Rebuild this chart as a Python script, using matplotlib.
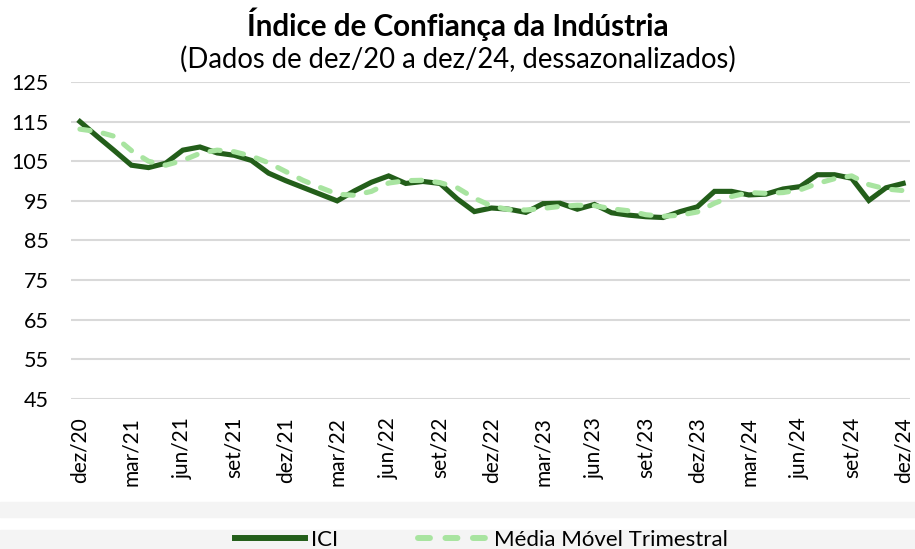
import numpy as np
import matplotlib
matplotlib.use('Agg')
import matplotlib.pyplot as plt
from matplotlib.patches import Rectangle

plt.rcParams['font.family'] = ['Lato', 'DejaVu Sans']

# Dados (dez/20 a dez/24)
meses = ['dez/20', 'jan/21', 'fev/21', 'mar/21', 'abr/21', 'mai/21', 'jun/21', 'jul/21', 'ago/21',
         'set/21', 'out/21', 'nov/21', 'dez/21', 'jan/22', 'fev/22', 'mar/22', 'abr/22', 'mai/22',
         'jun/22', 'jul/22', 'ago/22', 'set/22', 'out/22', 'nov/22', 'dez/22', 'jan/23', 'fev/23',
         'mar/23', 'abr/23', 'mai/23', 'jun/23', 'jul/23', 'ago/23', 'set/23', 'out/23', 'nov/23',
         'dez/23', 'jan/24', 'fev/24', 'mar/24', 'abr/24', 'mai/24', 'jun/24', 'jul/24', 'ago/24',
         'set/24', 'out/24', 'nov/24', 'dez/24']

ici = [115.0, 111.3, 107.7, 104.0, 103.4, 104.5, 107.8, 108.6, 107.1,
       106.5, 105.2, 102.0, 100.1, 98.4, 96.7, 95.0, 97.5, 99.7,
       101.3, 99.4, 99.9, 99.4, 95.5, 92.3, 93.2, 92.9, 92.1,
       94.3, 94.4, 92.9, 94.1, 92.0, 91.4, 91.0, 90.8, 92.3,
       93.5, 97.4, 97.4, 96.5, 96.7, 98.0, 98.6, 101.6, 101.6,
       100.7, 95.1, 98.3, 99.4]

media_movel = [113.1, 112.5, 111.3, 107.7, 105.0, 104.0, 105.2, 107.0, 107.8,
               107.4, 106.3, 104.6, 102.4, 100.2, 98.4, 96.7, 96.4, 97.4,
               99.5, 100.1, 100.2, 99.6, 98.3, 95.7, 93.7, 92.8, 92.7,
               93.1, 93.6, 93.9, 93.8, 93.0, 92.5, 91.5, 91.1, 91.4,
               92.2, 94.4, 96.1, 97.1, 96.9, 97.1, 97.8, 99.4, 100.6,
               101.3, 99.1, 98.0, 97.6]

y_ticks = [45, 55, 65, 75, 85, 95, 105, 115, 125]

W, H = 915, 549
fig = plt.figure(figsize=(W / 100, H / 100), dpi=100)
ax = fig.add_axes([71 / W, 1 - 399 / H, (910 - 71) / W, (399 - 82) / H])

x = np.arange(len(meses))
ax.plot(x, ici, color='#235e1a', lw=3.7, solid_joinstyle='miter', label='ICI', zorder=3)
ax.plot(x, media_movel, color='#a8e4a0', lw=3.7, dashes=(2.0, 2.6), dash_capstyle='round',
        label='Média Móvel Trimestral', zorder=4)

ax.set_xlim(-0.52, 48.4)
ax.set_ylim(45, 125)
ax.set_yticks(y_ticks)
ax.set_xticks(x[::3])
ax.set_xticklabels(meses[::3], rotation=90, fontsize=15)
ax.tick_params(axis='y', labelsize=15.5, length=0, pad=16)
ax.tick_params(axis='x', length=0, pad=13)
ax.grid(axis='y', color='#d9d9d9', lw=1.5)
ax.set_axisbelow(True)
for s in ax.spines.values():
    s.set_visible(False)

# títulos
fig.text(0.5, 1 - 24 / H, 'Índice de Confiança da Indústria', ha='center', va='center',
         fontsize=21.3, fontweight='bold')
fig.text(0.5, 1 - 59 / H, '(Dados de dez/20 a dez/24, dessazonalizados)', ha='center', va='center',
         fontsize=19.8)

# faixas cinza do rodapé
fig.patches.append(Rectangle((0, 1 - 517 / H), 1, 15 / H, transform=fig.transFigure,
                             color='#f4f4f4', zorder=0))
fig.patches.append(Rectangle((0, 0), 1, 19 / H, transform=fig.transFigure,
                             color='#f4f4f4', zorder=0))

leg = fig.legend(loc='center', bbox_to_anchor=(481 / W, 1 - 540 / H), ncol=2, frameon=False,
                 fontsize=16, handlelength=3.15, columnspacing=3.6, handletextpad=0.27,
                 borderpad=0, borderaxespad=0)
for line in leg.get_lines():
    line.set_linewidth(4.3)

fig.savefig('out.png', dpi=100)
